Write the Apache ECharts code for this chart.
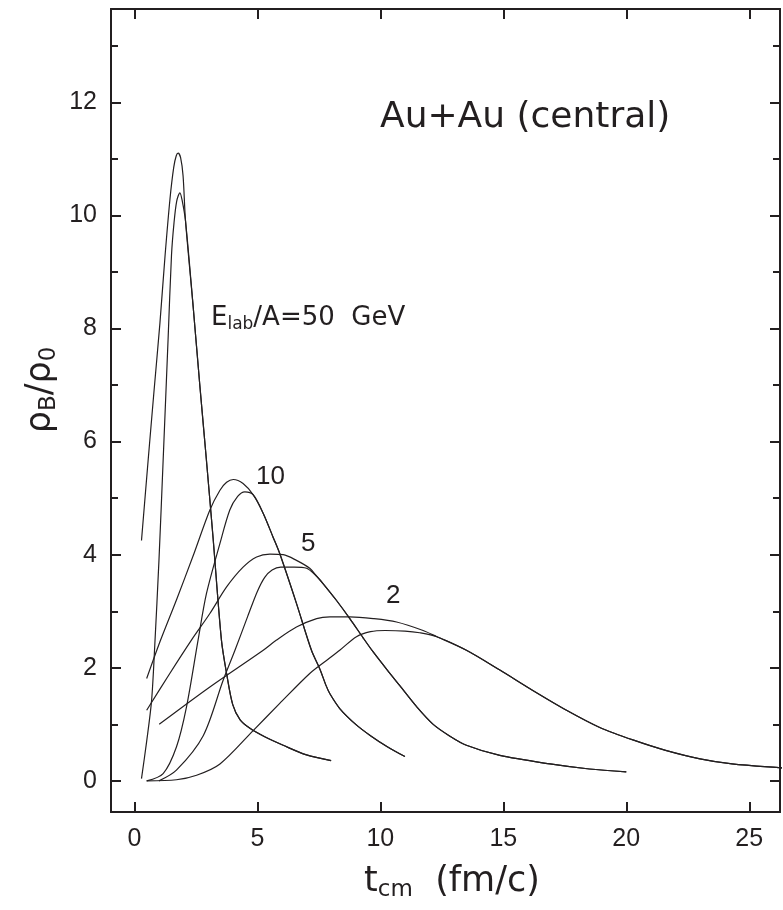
<!DOCTYPE html>
<html>
<head>
<meta charset="utf-8">
<script src="https://cdn.jsdelivr.net/npm/echarts@6/dist/echarts.min.js"></script>
<style>
  html, body { margin: 0; padding: 0; background: #fff; }
  #chart { width: 783px; height: 910px; }
</style>
</head>
<body>
<div id="chart"></div>
<script>
// tick positions
var xTicks = [0, 5, 10, 15, 20, 25];
var yMajor = [0, 2, 4, 6, 8, 10, 12];
var yMinor = [1, 3, 5, 7, 9, 11, 13];

// E_lab/A = 50 GeV : rising parts of the two curves, then the common tail
var e50a = [[0.29, 4.25], [0.56, 5.67], [0.8, 6.9], [1.04, 8.1], [1.25, 9.3], [1.45, 10.3], [1.6, 10.85], [1.7, 11.05], [1.78, 11.1], [1.88, 11.02], [1.98, 10.7]];
var e50b = [[0.29, 0.04], [0.5, 0.7], [0.7, 1.42], [0.83, 2.4], [1.0, 3.9], [1.17, 5.67], [1.37, 7.8], [1.51, 9.3], [1.61, 9.86], [1.72, 10.25], [1.85, 10.4], [1.95, 10.25]];
var tail50 = [[2.08, 9.9], [2.39, 8.39], [2.66, 7.0], [2.93, 5.67], [3.2, 4.3], [3.54, 2.49], [3.75, 1.9], [4.0, 1.35], [4.3, 1.08], [4.7, 0.93], [5.3, 0.78], [6.05, 0.63], [7.0, 0.46], [8.0, 0.36]];

// 10 GeV
var e10a = [[0.5, 1.81], [1.04, 2.46], [1.71, 3.2], [2.39, 3.98], [3.07, 4.79], [3.48, 5.14], [3.75, 5.28], [4.02, 5.33], [4.42, 5.26]];
var e10b = [[0.5, 0.0], [1.17, 0.13], [1.71, 0.6], [2.12, 1.31], [2.59, 2.49], [2.93, 3.31], [3.48, 4.2], [3.88, 4.79], [4.2, 5.03], [4.49, 5.11]];
var tail10 = [[4.83, 5.06], [5.24, 4.73], [5.64, 4.31], [5.91, 4.02], [6.59, 3.14], [7.2, 2.31], [7.54, 1.98], [7.8, 1.68], [7.95, 1.54], [8.35, 1.28], [9.0, 1.0], [9.6, 0.8], [10.3, 0.6], [11.0, 0.43]];

// 5 GeV
var e5a = [[0.5, 1.25], [1.44, 1.9], [2.32, 2.49], [3.07, 2.96], [3.75, 3.43], [4.42, 3.78], [4.97, 3.96], [5.51, 4.01], [6.05, 4.0], [6.59, 3.9], [7.13, 3.76]];
var e5b = [[1.0, 0.0], [1.71, 0.19], [2.8, 0.8], [3.61, 1.78], [4.09, 2.31], [4.6, 2.9], [5.0, 3.35], [5.3, 3.6], [5.6, 3.73], [5.95, 3.78], [6.5, 3.78], [7.0, 3.76]];
var tail5 = [[7.41, 3.62], [7.67, 3.49], [8.22, 3.19], [8.76, 2.87], [9.3, 2.53], [9.71, 2.28], [10.3, 1.95], [10.8, 1.68], [11.5, 1.3], [12.15, 1.0], [12.8, 0.8], [13.5, 0.63], [14.86, 0.45], [16.9, 0.3], [18.5, 0.21], [20.0, 0.16]];

// 2 GeV
var e2a = [[1.01, 1.0], [3.07, 1.66], [5.24, 2.31], [5.78, 2.49], [6.59, 2.72], [7.41, 2.87], [7.95, 2.9], [8.76, 2.9], [9.71, 2.87], [10.66, 2.81], [11.74, 2.66]];
var e2b = [[0.5, 0.0], [1.71, 0.02], [2.53, 0.1], [3.48, 0.3], [4.83, 0.89], [5.91, 1.37], [7.13, 1.9], [7.81, 2.13], [8.35, 2.31], [9.03, 2.55], [9.6, 2.64], [10.2, 2.66], [11.0, 2.65], [11.6, 2.62]];
var tail2 = [[12.3, 2.55], [13.5, 2.31], [14.86, 1.96], [16.2, 1.6], [17.57, 1.25], [18.9, 0.95], [20.3, 0.72], [21.6, 0.54], [23.0, 0.39], [24.3, 0.3], [26.3, 0.23], [27.0, 0.21]];

var ink = '#231f20';
var tickFont = "'Liberation Sans', Arial, sans-serif";
var textFont = "'DejaVu Sans', sans-serif";

function curve(data) {
    return {
        type: 'line',
        data: data,
        symbol: 'none',
        smooth: 0.3,
        clip: true,
        lineStyle: { color: ink, width: 1.2 }
    };
}

function xAxis(pos, labels) {
    return {
        type: 'value', position: pos, min: -0.95, max: 26.25,
        axisLine: { onZero: false, lineStyle: { color: ink, width: 2 } },
        axisTick: { inside: true, length: 10, customValues: xTicks, lineStyle: { color: ink, width: 2 } },
        axisLabel: { show: labels, customValues: xTicks, margin: 15, fontSize: 25, color: ink, fontFamily: tickFont },
        splitLine: { show: false }
    };
}

function yAxis(pos, ticks, len, labels) {
    return {
        type: 'value', position: pos, min: -0.55, max: 13.65,
        axisLine: { show: true, onZero: false, lineStyle: { color: ink, width: 2 } },
        axisTick: { inside: true, length: len, customValues: ticks, lineStyle: { color: ink, width: 2 } },
        axisLabel: { show: labels, customValues: yMajor, margin: 14, fontSize: 25, color: ink, fontFamily: tickFont },
        splitLine: { show: false }
    };
}

var chart = echarts.init(document.getElementById('chart'));
chart.setOption({
    animation: false,
    backgroundColor: '#fff',
    grid: { left: 111, top: 9, width: 669, height: 803, containLabel: false },
    xAxis: [xAxis('bottom', true), xAxis('top', false)],
    yAxis: [
        yAxis('left', yMajor, 10, true),
        yAxis('right', yMajor, 10, false),
        yAxis('left', yMinor, 7, false),
        yAxis('right', yMinor, 7, false)
    ],
    series: [
        curve(e50a.concat(tail50)),
        curve(e50b.concat(tail50)),
        curve(e10a.concat(tail10)),
        curve(e10b.concat(tail10)),
        curve(e5a.concat(tail5)),
        curve(e5b.concat(tail5)),
        curve(e2a.concat(tail2)),
        curve(e2b.concat(tail2))
    ],
    graphic: [
        { type: 'text', x: 380, y: 118, style: { text: 'Au+Au (central)', font: '36px ' + textFont, fill: ink, textVerticalAlign: 'middle' } },
        { type: 'text', x: 211, y: 318, style: {
            text: 'E{s|lab}/A=50  GeV', fill: ink, textVerticalAlign: 'middle',
            rich: { s: { fontSize: 17, fontFamily: textFont, verticalAlign: 'bottom', lineHeight: 14 } },
            fontSize: 26, fontFamily: textFont, lineHeight: 30
        } },
        { type: 'text', x: 256, y: 477, style: { text: '10', font: '26px ' + tickFont, fill: ink, textVerticalAlign: 'middle' } },
        { type: 'text', x: 301, y: 544, style: { text: '5', font: '26px ' + tickFont, fill: ink, textVerticalAlign: 'middle' } },
        { type: 'text', x: 386, y: 596, style: { text: '2', font: '26px ' + tickFont, fill: ink, textVerticalAlign: 'middle' } },
        { type: 'text', x: 452, y: 882, style: {
            text: 't{s|cm}  (fm/c)', fill: ink, textAlign: 'center', textVerticalAlign: 'middle',
            rich: { s: { fontSize: 23, fontFamily: textFont, verticalAlign: 'bottom', lineHeight: 18 } },
            fontSize: 35, fontFamily: textFont, lineHeight: 40
        } },
        { type: 'text', x: 41, y: 390, rotation: Math.PI / 2, style: {
            text: 'ρ{s|B}/ρ{s|0}', fill: ink, textAlign: 'center', textVerticalAlign: 'middle',
            rich: { s: { fontSize: 23, fontFamily: textFont, verticalAlign: 'bottom', lineHeight: 18 } },
            fontSize: 35, fontFamily: textFont, lineHeight: 40
        } }
    ]
});
</script>
</body>
</html>
